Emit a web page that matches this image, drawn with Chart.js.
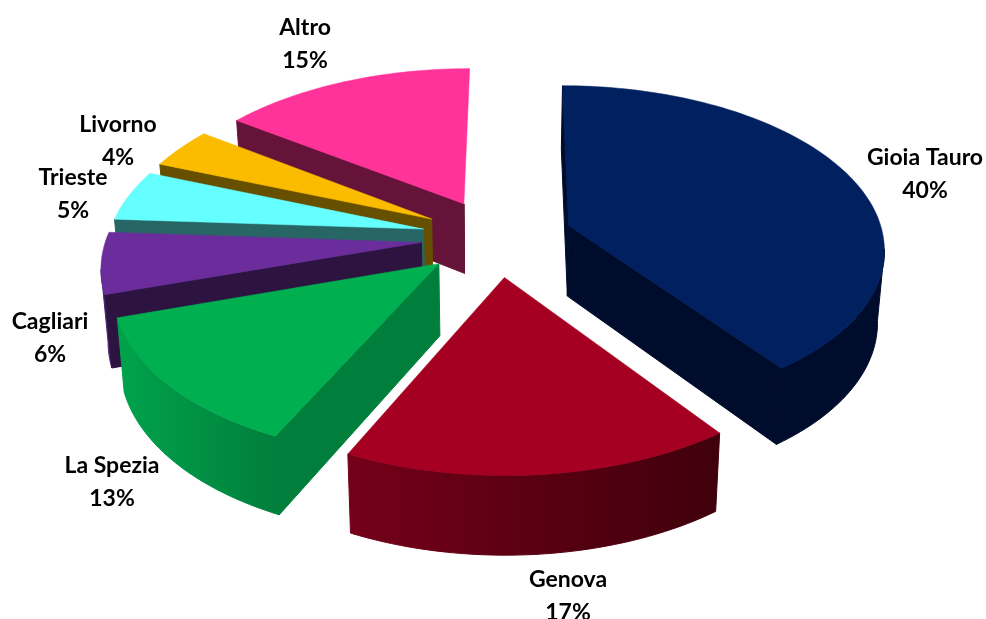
<!DOCTYPE html>
<html>
<head>
<meta charset="utf-8">
<style>html,body{margin:0;padding:0;background:#fff}canvas{display:block}</style>
<script src="https://cdn.jsdelivr.net/npm/chart.js@4"></script>
</head>
<body>
<canvas id="c" width="986" height="619"></canvas>
<script>
const categories = ['Gioia Tauro','Genova','La Spezia','Cagliari','Trieste','Livorno','Altro'];
const values = [40,17,13,6,5,4,15];
const topColors = ['#002060','#A50021','#00B050','#6B2D9C','#66FFFF','#FBBC00','#FF3399'];
const faceColors = ['#000C2C','#4A000E','#007F3C','#2D1340','#286666','#665000','#661339'];
const wallLeft = ['#000C2C','#75001A','#00A34C','#5F2A8A','#2E7070','#665000','#661339'];
const wallRight = ['#000C2C','#3F000B','#007F3C','#4A2070','#286666','#665000','#661339'];
const drawOrder = [6,5,4,3,2,0,1];
const labelX = [925,568,112,50,73,118,305];
const labelY = [158,580,466,322,178,125,28];
const explodeOffset = 198;

// camera used to lay the flat pie on a tilted plane
const view = {cx:497, cy:237.5, rx:315, ry:161, persp:0.13, farShear:2, shiftScale:1.025, baseScale:0.982, depth:71, depthTilt:7, minFace:8};
function top3d(u,v){
  const w = 1 + view.persp*v;
  return {x:view.cx + view.rx*u/w + view.farShear*Math.max(v,0), y:view.cy - view.ry*v/w, v};
}
function base3d(p){
  return {x:view.cx + (p.x-view.cx)*view.baseScale, y:p.y + view.depth - view.depthTilt*p.v};
}
function poly(ctx,pts){
  ctx.beginPath();
  pts.forEach((p,i)=> i ? ctx.lineTo(p.x,p.y) : ctx.moveTo(p.x,p.y));
  ctx.closePath();
}
function paint(ctx,pts,fill,edge){
  poly(ctx,pts);
  ctx.fillStyle = fill; ctx.fill();
  ctx.strokeStyle = fill; ctx.lineWidth = edge; ctx.stroke();
}

const pie3d = {
  id:'pie3d',
  beforeDatasetDraw(){ return false; },
  afterDatasetsDraw(chart){
    const ctx = chart.ctx;
    const arcs = chart.getDatasetMeta(0).data;
    ctx.save();
    drawOrder.forEach(i=>{
      const a = arcs[i];
      const mid = (a.startAngle+a.endAngle)/2;
      const shift = view.shiftScale*(a.options.offset||0)/4/a.outerRadius;
      const ou = Math.cos(mid)*shift, ov = -Math.sin(mid)*shift;
      const apex = top3d(ou,ov);
      const rim = [];
      const steps = Math.max(8,Math.round((a.endAngle-a.startAngle)*40));
      for(let s=0;s<=steps;s++){
        const t = a.startAngle + (a.endAngle-a.startAngle)*s/steps;
        rim.push(top3d(ou+Math.cos(t), ov-Math.sin(t)));
      }
      const first = rim[0], last = rim[rim.length-1];
      // outer wall: the runs of the rim that face the viewer
      let run = [];
      const flush = ()=>{
        if(run.length>1){
          const xs = run.map(p=>p.x);
          const g = ctx.createLinearGradient(Math.min(...xs),0,Math.max(...xs),0);
          g.addColorStop(0,wallLeft[i]); g.addColorStop(1,wallRight[i]);
          paint(ctx,run.concat(run.map(base3d).reverse()),g,1);
        }
        run = [];
      };
      for(let s=0;s<rim.length-1;s++){
        if(rim[s+1].x < rim[s].x){
          if(!run.length) run.push(rim[s]);
          run.push(rim[s+1]);
        } else flush();
      }
      flush();
      // radial faces, front-facing only
      if(first.x < apex.x) paint(ctx,[apex,first,base3d(first),base3d(apex)],faceColors[i],1);
      if(last.x - apex.x > view.minFace) paint(ctx,[last,apex,base3d(apex),base3d(last)],faceColors[i],1);
      else if(apex.x < last.x) paint(ctx,[apex,base3d(apex),{x:apex.x,y:apex.y}],faceColors[i],1);
      // top face
      paint(ctx,[apex].concat(rim),topColors[i],0.5);
    });
    // labels
    ctx.fillStyle = '#000';
    ctx.textAlign = 'center';
    ctx.textBaseline = 'middle';
    ctx.font = 'bold 23px Lato, "Open Sans", sans-serif';
    categories.forEach((name,i)=>{
      ctx.fillText(name,labelX[i],labelY[i]);
      ctx.fillText(values[i]+'%',labelX[i],labelY[i]+33);
    });
    ctx.restore();
  }
};

new Chart(document.getElementById('c'),{
  type:'pie',
  data:{labels:categories,datasets:[{data:values,backgroundColor:topColors,borderWidth:0,offset:explodeOffset}]},
  options:{
    responsive:false,animation:false,
    layout:{padding:0},
    plugins:{legend:{display:false},tooltip:{enabled:false}}
  },
  plugins:[pie3d]
});
</script>
</body>
</html>
